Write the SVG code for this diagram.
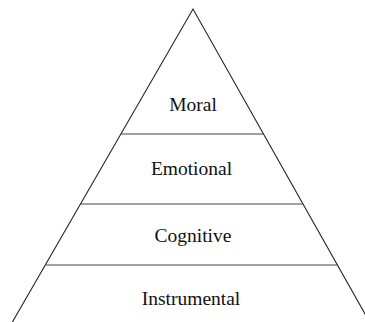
<svg xmlns="http://www.w3.org/2000/svg" width="365" height="322" viewBox="0 0 365 322">
  <style>
    .edge { fill: none; stroke: #222; stroke-width: 1.1; }
    .tier { fill: none; stroke: #444; stroke-width: 1.1; }
    .label { font-family: "Liberation Serif", "Times New Roman", serif; font-size: 19.5px; fill: #111; text-anchor: middle; }
  </style>
  <rect width="365" height="322" fill="#fff"/>
  <!-- pyramid outline and tier dividers -->
  <g id="connectors">
    <polyline class="edge" points="12.4,322 193,9 369.6,322"/>
    <line class="tier" x1="120.9" y1="134" x2="263.3" y2="134"/>
    <line class="tier" x1="80.5" y1="204" x2="302.7" y2="204"/>
    <line class="tier" x1="45.3" y1="265" x2="337" y2="265"/>
  </g>
  <g id="moral"><text class="label" x="193" y="111">Moral</text></g>
  <g id="emotional"><text class="label" x="191.5" y="174.5">Emotional</text></g>
  <g id="cognitive"><text class="label" x="193" y="242">Cognitive</text></g>
  <g id="instrumental"><text class="label" x="191" y="304.5">Instrumental</text></g>
</svg>
